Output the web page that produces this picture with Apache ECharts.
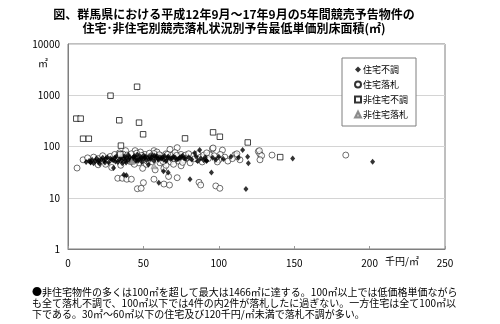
<!DOCTYPE html>
<html>
<head>
<meta charset="utf-8">
<script src="https://cdn.jsdelivr.net/npm/echarts@6/dist/echarts.min.js"></script>
<style>
  html, body { margin: 0; padding: 0; background: #fff; }
  #chart { width: 500px; height: 324px; }
</style>
</head>
<body>
<div id="chart"></div>
<script>
// 予告最低単価（千円/㎡）と床面積（㎡）の組
const seriesNames = ['住宅不調', '住宅落札', '非住宅不調', '非住宅落札'];

const jutakuFuchou = [
  [12,50],[14,52],[15,49],[16,55],[17,47],[18,53],[19,58],[20,50],[21,46],[22,55],
  [23,60],[24,52],[25,57],[26,62],[27,49],[28,58],[30,54],[31,60],[32,64],[33,50],
  [34,56],[35,62],[36,47],[36,66],[37,58],[38,52],[39,60],[40,55],[40,68],[41,62],
  [42,48],[43,57],[44,65],[45,52],[45,60],[46,70],[47,56],[48,63],[49,50],[50,58],
  [50,66],[51,61],[52,54],[54,63],[55,57],[56,68],[57,52],[58,60],[59,65],[60,55],
  [61,62],[62,58],[64,65],[65,52],[66,60],[68,57],[70,63],[72,55],[74,60],[76,66],
  [78,58],[80,62],[82,56],[84,75],[85,64],[86,52],[88,58],[90,54],[91,62],[92,53],
  [96,60],[98,55],[100,63],[103,57],[113,60],
  [35.5,54],[37.5,64],[38.5,49],[41.5,56],[43.5,61],[46.5,53],[48.5,59],[51.5,64],
  [53.5,57],[55.5,61],[57.5,66],[59.5,58],[62.5,61],[63.5,55],[66.5,64],[69,59],
  [71,61],[73,57],[75,63],[77,59],[20.5,54],[24.5,49],[29,56],[31.5,51],
  [30.2,38],[38.7,27.5],[37,28],[60.2,19.7],[66.4,31],[80.9,23],[95.1,31],[118,14.8],
  [115.8,85],[119.1,63],[119.6,47],[108,63],[87.3,85],[149,58],[202,50.5],
  [53.3,44],[63.3,33],[91.8,52.7],[15,50]
];

const jutakuRakusatsu = [
  [6,38],[29,39],[33,24],[36,24],[39,23],[42,23],[46,15],[48.5,15.3],[50,19.7],[57,23],
  [63.6,18.5],[67.3,17.7],[72.4,24.6],[86.9,20],[88,17.7],[98,17],[100.7,15.3],
  [49.5,37.5],[63.6,37.5],[57.8,35],[66.7,26],[38.2,83],[44.5,83],[57,83],[67.6,88],
  [72.4,95],[95.8,90],[102.4,85],[111.3,68],[96.2,93.6],[110.7,69],[126.2,80],
  [127.3,71],[126.9,83],[128.4,66],[127.3,55],[135.3,68],[184.2,68],[86.2,55],
  [94,69],[100,55],[111.8,64],
  [10,55],[13,60],[17,62],[20,58],[23,66],[26,53],[28,64],[31,70],[33,58],[34,75],
  [37,62],[39,68],[41,52],[42,72],[44,60],[46,66],[47,48],[48,78],[50,62],[51,70],
  [52,45],[53,58],[54,74],[55,65],[56,50],[58,70],[59,78],[60,62],[61,48],[62,66],
  [64,56],[65,72],[67,62],[68,50],[69,68],[70,58],[71,76],[73,52],[74,64],[75,70],
  [77,55],[78,68],[79,60],[81,48],[83,66],[84,58],[86,72],[88,62],[89,50],[90,68],
  [92,75],[93,58],[97,66],[99,50],[101,70],[104,62],[106,52],[109,58],[112,72],[114,55],
  [20,44],[25,45],[44,45],[35,43],[65,43],[75,42],[70,45],
  [36.5,71],[40.5,58],[45.5,74],[49,67],[52.5,52],[57,73],[60.5,69],[63,51],[66,70],
  [72,67],[76,49],[80,72],[43,53]
];

const hiJutakuFuchou = [
  [5.5,350],[8.4,350],[10,142],[13.8,142],[28.2,980],[45.8,1466],[34,325],[47.1,292],
  [49.8,173],[35.1,104],[77.6,144],[96.2,189],[100.7,155],[119.2,120],[140.7,62],[34.7,70]
];

const hiJutakuRakusatsu = [
  [42.2,51],[57,42]
];

const xTicks = { min: 0, max: 250, interval: 50 };
const yTicks = { min: 1, max: 10000 };

const font = '"Noto Sans CJK JP", "Noto Sans", sans-serif';

const chart = echarts.init(document.getElementById('chart'));
chart.setOption({
  animation: false,
  backgroundColor: '#fff',
  textStyle: { fontFamily: font },
  grid: {
    left: 68, right: 55, top: 44, bottom: 75,
    show: true, borderColor: '#7f7f7f', borderWidth: 1
  },
  xAxis: {
    type: 'value',
    min: xTicks.min, max: xTicks.max, interval: xTicks.interval,
    axisLine: { show: true, lineStyle: { color: '#7f7f7f', width: 1 } },
    axisTick: { show: true, inside: true, length: 3, lineStyle: { color: '#9a9a9a' } },
    splitLine: { show: false },
    axisLabel: { color: '#000', fontSize: 10, margin: 9, fontFamily: font }
  },
  yAxis: {
    type: 'log', logBase: 10,
    min: yTicks.min, max: yTicks.max,
    axisLine: { show: true, lineStyle: { color: '#7f7f7f', width: 1 } },
    axisTick: { show: false },
    splitLine: { show: true, lineStyle: { color: '#d4d4d4', width: 1 } },
    axisLabel: {
      color: '#000', fontSize: 10, margin: 8, fontFamily: font,
      formatter: (v) => String(Math.round(v))
    }
  },
  legend: {
    orient: 'vertical',
    left: 342, top: 58,
    padding: [7, 8, 7, 12],
    itemGap: 6,
    itemWidth: 6, itemHeight: 6,
    borderColor: '#7f7f7f', borderWidth: 1,
    backgroundColor: '#fff',
    textStyle: { fontSize: 9, color: '#000', fontFamily: font, padding: [0, 0, 0, -3] },
    data: seriesNames
  },
  series: [
    {
      name: seriesNames[0], type: 'scatter', data: jutakuFuchou,
      symbol: 'diamond', symbolSize: [5, 6],
      itemStyle: { color: '#000' }, z: 3
    },
    {
      name: seriesNames[1], type: 'scatter', data: jutakuRakusatsu,
      symbol: 'circle', symbolSize: 6,
      itemStyle: { color: '#fff', borderColor: '#000', borderWidth: 0.7 }, z: 2
    },
    {
      name: seriesNames[2], type: 'scatter', data: hiJutakuFuchou,
      symbol: 'rect', symbolSize: 5.5,
      itemStyle: { color: '#fff', borderColor: '#000', borderWidth: 0.9 }, z: 4
    },
    {
      name: seriesNames[3], type: 'scatter', data: hiJutakuRakusatsu,
      symbol: 'triangle', symbolSize: 6,
      itemStyle: { color: '#b0b0b0', borderColor: '#777', borderWidth: 0.6 }, z: 4
    }
  ],
  graphic: [
    {
      type: 'text', x: 234, y: 14,
      style: {
        text: '図、群馬県における平成12年9月～17年9月の5年間競売予告物件の',
        font: 'bold 12px ' + font, fill: '#000',
        textAlign: 'center', textVerticalAlign: 'middle'
      }
    },
    {
      type: 'text', x: 234, y: 28,
      style: {
        text: '住宅･非住宅別競売落札状況別予告最低単価別床面積(㎡)',
        font: 'bold 12px ' + font, fill: '#000',
        textAlign: 'center', textVerticalAlign: 'middle'
      }
    },
    {
      type: 'text', left: 38, top: 58,
      style: { text: '㎡', font: '10px ' + font, fill: '#000' }
    },
    {
      type: 'text', left: 385, top: 256,
      style: { text: '千円/㎡', font: '10px ' + font, fill: '#000' }
    },
    {
      type: 'text', left: 32, top: 287,
      style: {
        text: '●非住宅物件の多くは100㎡を超して最大は1466㎡に達する。100㎡以上では低価格単価ながら',
        font: '10px ' + font, fill: '#000'
      }
    },
    {
      type: 'text', left: 32, top: 298,
      style: {
        text: 'も全て落札不調で、100㎡以下では4件の内2件が落札したに過ぎない。一方住宅は全て100㎡以',
        font: '10px ' + font, fill: '#000'
      }
    },
    {
      type: 'text', left: 32, top: 309,
      style: {
        text: '下である。30㎡～60㎡以下の住宅及び120千円/㎡未満で落札不調が多い。',
        font: '10px ' + font, fill: '#000'
      }
    }
  ]
});
</script>
</body>
</html>
